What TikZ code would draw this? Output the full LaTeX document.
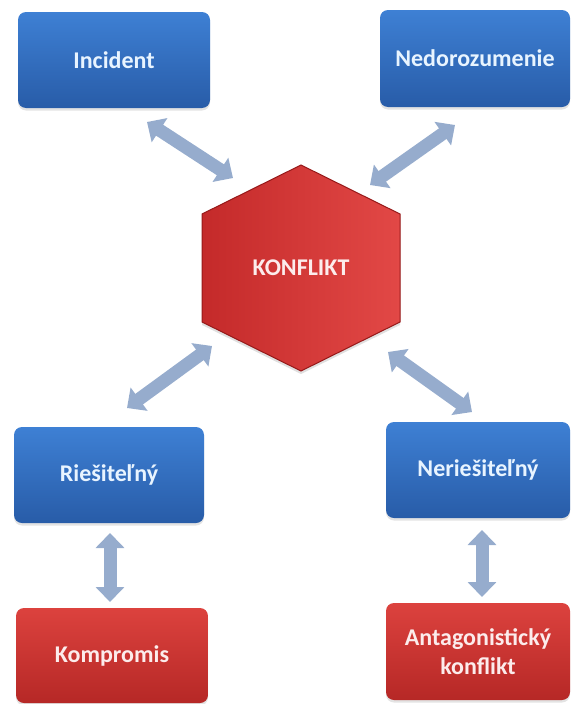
\documentclass[tikz,border=0pt]{standalone}
\usepackage{fontspec}
\setmainfont{Carlito}
\usetikzlibrary{arrows.meta,shadows}
\definecolor{bluetop}{RGB}{62,128,212}
\definecolor{bluebot}{RGB}{40,92,168}
\definecolor{redtop}{RGB}{220,66,62}
\definecolor{redbot}{RGB}{182,40,38}
\definecolor{hexl}{RGB}{196,42,42}
\definecolor{hexr}{RGB}{226,72,70}
\definecolor{hexedge}{RGB}{150,25,25}
\definecolor{arrowc}{RGB}{150,172,205}
\definecolor{bluetxt}{RGB}{232,244,255}
\definecolor{redtxt}{RGB}{252,236,236}
\tikzset{
  box/.style={rounded corners=8pt, inner sep=0pt, align=center,
    font=\fontsize{24}{29}\selectfont\bfseries,
    drop shadow={opacity=0.22, shadow xshift=0pt, shadow yshift=-2.5pt}},
  bluebox/.style={box, top color=bluetop, bottom color=bluebot, text=bluetxt},
  redbox/.style={box, top color=redtop, bottom color=redbot, text=redtxt},
  link/.style={draw=arrowc, line width=13pt,
    {Triangle[length=15pt,width=28pt]}-{Triangle[length=15pt,width=28pt]}},
}
\begin{document}
\begin{tikzpicture}[x=1pt,y=-1pt]
\useasboundingbox (0,0) rectangle (571,704);
% boxes
\node[bluebox, minimum width=192pt, minimum height=96pt] (inc) at (114,60) {Incident};
\node[bluebox, minimum width=190pt, minimum height=97pt] (ned) at (475,58.5) {Nedorozumenie};
\node[bluebox, minimum width=190pt, minimum height=96pt] (rie) at (109,475) {Riešiteľný};
\node[bluebox, minimum width=184pt, minimum height=96pt] (ner) at (478,470) {Neriešiteľný};
\node[redbox, minimum width=192pt, minimum height=95pt] (kom) at (112,655.5) {Kompromis};
\node[redbox, minimum width=184pt, minimum height=97pt] (ant) at (478,651.5) {Antagonistický\\konflikt};
% hexagon
\path[left color=hexl, right color=hexr, draw=hexedge, line width=1pt,
  drop shadow={opacity=0.25, shadow xshift=0pt, shadow yshift=-3pt}]
  (301,165) -- (400,214) -- (400,322) -- (301,371) -- (202,322) -- (202,214) -- cycle;
\node[font=\fontsize{24}{29}\selectfont\bfseries, text=redtxt] (kon) at (301,268) {KONFLIKT};
% arrow ends
\coordinate (a1s) at (147,122); \coordinate (a1e) at (233,178);
\coordinate (a2s) at (455,125); \coordinate (a2e) at (370,185);
\coordinate (a3s) at (212,346); \coordinate (a3e) at (127,408);
\coordinate (a4s) at (388,352); \coordinate (a4e) at (472,412);
\coordinate (a5s) at (110,533); \coordinate (a5e) at (110,602);
\coordinate (a6s) at (482,530); \coordinate (a6e) at (482,597);
\draw[link] (a1s) -- (a1e);
\draw[link] (a2s) -- (a2e);
\draw[link] (a3s) -- (a3e);
\draw[link] (a4s) -- (a4e);
\draw[link] (a5s) -- (a5e);
\draw[link] (a6s) -- (a6e);
\end{tikzpicture}
\end{document}
